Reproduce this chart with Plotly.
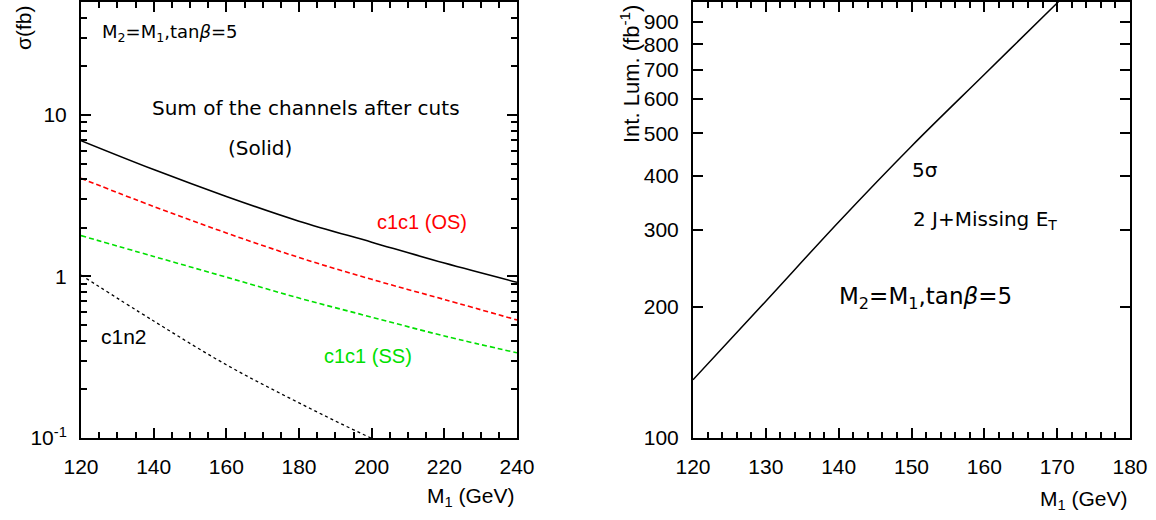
import plotly.graph_objects as go
import math

# ---------------- data ----------------
m1_left = [120, 140, 160, 180, 200, 220, 240]
sigma_total = [6.93, 4.59, 3.13, 2.20, 1.63, 1.21, 0.92]
sigma_os = [4.05, 2.71, 1.86, 1.31, 0.96, 0.72, 0.538]
sigma_ss = [1.79, 1.33, 0.99, 0.735, 0.56, 0.428, 0.337]
m1_c1n2 = [120, 140, 160, 180, 200, 220]
sigma_c1n2 = [1.02, 0.53, 0.284, 0.165, 0.0995, 0.063]

m1_right = [120, 130, 140, 150, 160, 170, 172]
lum_5sigma = [136, 206, 313, 467, 682, 995, 1075]

left_ytick_vals = [0.1, 1, 10]
left_ytick_text = ["10<sup>-1</sup>", "1", "10"]
left_yminor_vals = [0.2, 0.3, 0.4, 0.5, 0.6, 0.7, 0.8, 0.9, 2, 3, 4, 5, 6, 7, 8, 9, 20, 30, 40, 50]
right_ytick_vals = [100, 200, 300, 400, 500, 600, 700, 800, 900]

W, H = 1156, 520
def px(x):
    return x / W
def py(y):
    return 1 - y / H

TICKFONT = dict(family="Liberation Sans, Arial", size=21, color="black")
ANNFONT = "DejaVu Sans"
SM = 1.0

fig = go.Figure()
fig.add_trace(go.Scatter(x=m1_left, y=sigma_total, mode="lines", line=dict(color="black", width=1.6, shape="spline", smoothing=SM), xaxis="x", yaxis="y", showlegend=False))
fig.add_trace(go.Scatter(x=m1_left, y=sigma_os, mode="lines", line=dict(color="#ff0000", width=1.6, dash="5px,3px", shape="spline", smoothing=SM), xaxis="x", yaxis="y", showlegend=False))
fig.add_trace(go.Scatter(x=m1_left, y=sigma_ss, mode="lines", line=dict(color="#00e000", width=1.6, dash="5px,3px", shape="spline", smoothing=SM), xaxis="x", yaxis="y", showlegend=False))
fig.add_trace(go.Scatter(x=m1_c1n2, y=sigma_c1n2, mode="lines", line=dict(color="black", width=1.3, dash="3px,3px", shape="spline", smoothing=SM), xaxis="x", yaxis="y", showlegend=False))
fig.add_trace(go.Scatter(x=m1_right, y=lum_5sigma, mode="lines", line=dict(color="black", width=1.5, shape="spline", smoothing=SM), xaxis="x2", yaxis="y2", showlegend=False))

axis_common = dict(showline=True, linewidth=2, linecolor="black", mirror="allticks",
                   ticks="inside", ticklen=10, tickwidth=1.5, tickcolor="black",
                   showgrid=False, zeroline=False, tickfont=TICKFONT, automargin=False)
minor_common = dict(ticks="inside", ticklen=6, tickwidth=1.5, tickcolor="black", showgrid=False)

ydom = [py(438), py(2)]
fig.update_layout(
    width=W, height=H,
    margin=dict(l=0, r=0, t=0, b=0, autoexpand=False),
    paper_bgcolor="white", plot_bgcolor="white",
    xaxis=dict(domain=[px(81), px(517)], range=[120, 240], dtick=20, tick0=120,
               minor=dict(dtick=5, **minor_common), ticklabelstandoff=9,
               anchor="y", **axis_common),
    yaxis=dict(domain=ydom, type="log", range=[-1, math.log10(50)],
               tickvals=left_ytick_vals, ticktext=left_ytick_text,
               minor=dict(tickvals=left_yminor_vals, **minor_common), ticklabelstandoff=8,
               anchor="x", **axis_common),
    xaxis2=dict(domain=[px(693), px(1130)], range=[120, 180], dtick=10, tick0=120,
                minor=dict(dtick=2, **minor_common), ticklabelstandoff=9,
                anchor="y2", **axis_common),
    yaxis2=dict(domain=ydom, type="log", range=[2, 3], tickvals=right_ytick_vals,
                ticktext=[str(v) for v in right_ytick_vals], ticklabelstandoff=8,
                anchor="x2", **axis_common),
)

def ann(text, x, y, size, family=ANNFONT, color="black", angle=0, xanchor="center"):
    fig.add_annotation(text=text, x=px(x), y=py(y), xref="paper", yref="paper",
                       showarrow=False, xanchor=xanchor, yanchor="middle", textangle=angle,
                       font=dict(family=family, size=size, color=color))

# left panel texts
ann("σ(fb)", 23, 28, 21, family="Liberation Sans, Arial", angle=-90)
ann("M<sub>2</sub>=M<sub>1</sub>,tan<i>β</i>=5", 169, 33, 18)
ann("Sum of the channels after cuts", 306, 108, 20)
ann("(Solid)", 260, 148, 20)
ann("c1c1 (OS)", 422, 222, 20, family="Liberation Sans, Arial", color="#ff0000")
ann("c1n2", 124, 336, 21, family="Liberation Sans, Arial")
ann("c1c1 (SS)", 368, 356, 20, family="Liberation Sans, Arial", color="#00e000")
ann("M<sub>1</sub> (GeV)", 517, 497, 21, family="Liberation Sans, Arial", xanchor="right")

# right panel texts
ann("Int. Lum. (fb<sup>-1</sup>)", 630, 74, 22, family="Liberation Sans, Arial", angle=-90)
ann("5σ", 925, 170, 20)
ann("2 J+Missing E<sub>T</sub>", 985, 220, 20)
ann("M<sub>2</sub>=M<sub>1</sub>,tan<i>β</i>=5", 926, 298, 23)
ann("M<sub>1</sub> (GeV)", 1130, 500, 21, family="Liberation Sans, Arial", xanchor="right")

fig.write_html("out.html", config={"displayModeBar": False},
               post_script="document.body.style.margin='0px';")
